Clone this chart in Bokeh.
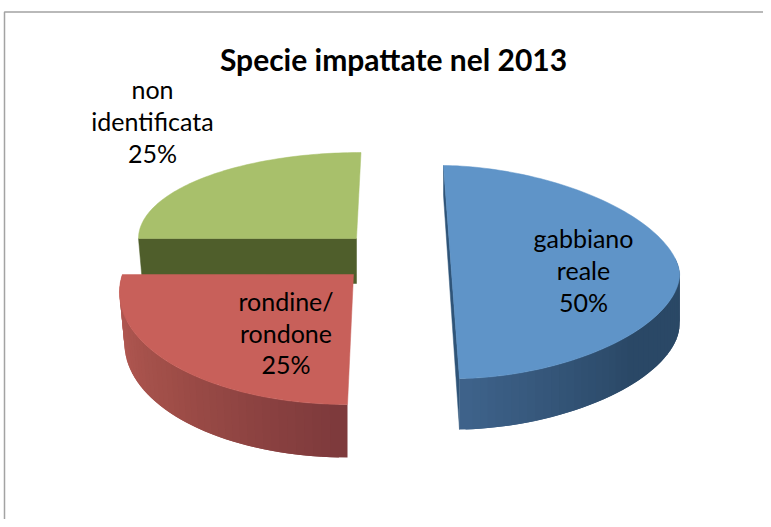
import numpy as np
from bokeh.plotting import figure
from bokeh.models import Range1d
from bokeh.core.properties import value
from bokeh.embed import file_html
from bokeh.resources import INLINE

title = "Specie impattate nel 2013"
categories = ["gabbiano reale", "rondine/rondone", "non identificata"]
shares = [50, 25, 25]
label_lines = [["gabbiano", "reale", "50%"], ["rondine/", "rondone", "25%"], ["non", "identificata", "25%"]]

W, H = 763, 519
p = figure(width=W, height=H, x_range=Range1d(0, W), y_range=Range1d(H, 0),
           x_axis_type=None, y_axis_type=None, toolbar_location=None,
           output_backend="svg", min_border=0, outline_line_color=None,
           background_fill_color="white")
p.grid.visible = False


def lerp(stops, t):
    pos = np.linspace(0, 1, len(stops))
    rgb = [int(round(np.interp(t, pos, [s[i] for s in stops]))) for i in range(3)]
    return "#%02x%02x%02x" % tuple(rgb)


def arc(e, phi):
    cx, cy, rx, ry, sh, n = e
    s, c = np.sin(phi), np.cos(phi)
    return (cx + rx * np.sign(s) * np.abs(s) ** (2 / n) + sh * c,
            cy - ry * np.sign(c) * np.abs(c) ** (2 / n))


# slice angles come from the shares
cum = np.cumsum([0] + shares) / sum(shares) * 2 * np.pi
starts, ends = cum[:-1], cum[1:]

top_e = [(451, 271.5, 228, 106.5, -8, 1.8), (351, 290, 232, 114, 4, 2.0), (360.5, 238, 222.5, 86, 0, 2.0)]
bot_e = [(451, 322, 228, 107, -8, 1.8), (351, 341, 227, 116, 4, 2.0), None]
apex = [None, (353, 274), (356, 238)]
sweep_extra = [0.0, 0.14, 0.0]
top_col = ["#5f94c8", "#c8605a", "#a8c06b"]
side_stops = [[(62, 98, 138), (42, 72, 102), (42, 72, 102)],
              [(184, 92, 86), (160, 78, 72), (126, 58, 60)],
              None]

# frame
p.line([4, 4, W], [H, 11.5, 11.5], line_color="#a3a3a3", line_width=1.5)

# green slice (back)
phi = np.linspace(starts[2], ends[2], 80)
gx, gy = arc(top_e[2], phi)
d = 45
p.patch([gx[0], apex[2][0], apex[2][0], gx[0] + 4], [gy[0], gy[0], gy[0] + d, gy[0] + d],
        fill_color="#4f5e2b", line_color="#4f5e2b", line_width=0.5)
p.patch(list(gx) + [apex[2][0]], list(gy) + [apex[2][1]], fill_color=top_col[2], line_color=top_col[2], line_width=0.5)

# blue inner wall
bx, by = arc(top_e[0], np.array([starts[0], ends[0]]))
bx2, by2 = arc(bot_e[0], np.array([ends[0]]))
p.patch([bx[0], bx[0], bx2[0], bx[1]], [by[0], by[0] + 30, by2[0], by[1]],
        fill_color="#2f5478", line_color="#2f5478", line_width=0.5)

# outer walls as shaded strips, then top faces
for i in [0, 1]:
    if i == 0:
        phis = np.linspace(ends[0], starts[0] + np.pi * 0.45, 46)
    else:
        phis = np.linspace(starts[1], ends[1] + sweep_extra[1], 46)
    xa, ya = arc(top_e[i], phis)
    xb, yb = arc(bot_e[i], phis)
    xs, ys, cols = [], [], []
    for k in range(len(phis) - 1):
        j = min(k + 2, len(phis) - 1)
        xs.append([xa[k], xa[j], xb[j], xb[k]])
        ys.append([ya[k], ya[j], yb[j], yb[k]])
        t = k / (len(phis) - 2)
        cols.append(lerp(side_stops[i], t if i == 0 else 1 - t))
    p.patches(xs[::-1], ys[::-1], fill_color=cols[::-1], line_color=None)

for i in [0, 1]:
    phi = np.linspace(starts[i], ends[i] + sweep_extra[i], 120)
    x, y = arc(top_e[i], phi)
    if apex[i] is not None:
        x = np.append(x, apex[i][0])
        y = np.append(y, apex[i][1])
    p.patch(x, y, fill_color=top_col[i], line_color=top_col[i], line_width=0.5)

# text
FONT = "Lato"
p.text([393], [58], text=[title], text_font=value(FONT), text_font_style="bold", text_font_size="30px",
       text_align="center", text_baseline="alphabetic", text_color="black")
label_x = [583, 285.5, 152]
label_y = [[237, 269, 301.5], [300, 332, 363], [88, 120, 152]]
for lines, lx, yy in zip(label_lines, label_x, label_y):
    p.text([lx] * len(lines), yy, text=lines, text_font=value(FONT), text_font_size="25px",
           text_align="center", text_baseline="alphabetic", text_color="black")

open("out.html", "w").write(file_html(p, INLINE))
